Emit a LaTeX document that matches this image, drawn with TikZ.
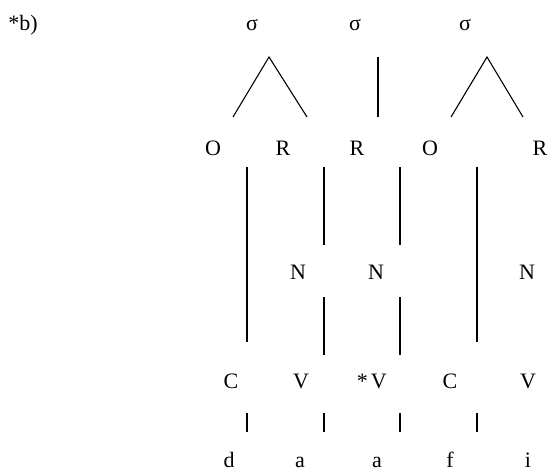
\documentclass[tikz,border=0pt]{standalone}
\usepackage{fontspec}
\setmainfont{Liberation Serif}
\begin{document}
\begin{tikzpicture}[x=1pt,y=-1pt,
  lbl/.style={anchor=base,inner sep=0pt,font=\fontsize{22}{26}\selectfont},
  ln/.style={line width=1.1pt},
  thk/.style={line width=1.7pt}]
\useasboundingbox (0,0) rectangle (553,472);
% labels
\node[lbl] (tag) at (23,30) {*b)};
\node[lbl] (s1) at (252,30) {σ};
\node[lbl] (s2) at (355,30) {σ};
\node[lbl] (s3) at (465,30) {σ};
\node[lbl] (o1) at (213,155) {O};
\node[lbl] (r1) at (283,155) {R};
\node[lbl] (r2) at (357,155) {R};
\node[lbl] (o2) at (430,155) {O};
\node[lbl] (r3) at (540,155) {R};
\node[lbl] (n1) at (298,279) {N};
\node[lbl] (n2) at (376,279) {N};
\node[lbl] (n3) at (527,279) {N};
\node[lbl] (c1) at (231,388) {C};
\node[lbl] (v1) at (301,388) {V};
\node[lbl,anchor=base east] (v2) at (387,388) {*\hspace{3pt}V};
\node[lbl] (c2) at (450,388) {C};
\node[lbl] (v3) at (528,388) {V};
\node[lbl] (d) at (229,467) {d};
\node[lbl] (a1) at (300,467) {a};
\node[lbl] (a2) at (377,467) {a};
\node[lbl] (f) at (450,467) {f};
\node[lbl] (i) at (528,467) {i};
% connector end points
\coordinate (t1) at (269,57);
\coordinate (t1l) at (233,117);
\coordinate (t1r) at (307,117);
\coordinate (t2) at (378,57);
\coordinate (t2b) at (378,117);
\coordinate (t3) at (487,57);
\coordinate (t3l) at (451,117);
\coordinate (t3r) at (523,117);
\coordinate (oa) at (247,167); \coordinate (ob) at (247,342);
\coordinate (oc) at (477,167); \coordinate (od) at (477,342);
\coordinate (ra) at (324,167); \coordinate (rb) at (324,245);
\coordinate (rc) at (400,167); \coordinate (rd) at (400,245);
\coordinate (na) at (324,297); \coordinate (nb) at (324,355);
\coordinate (nc) at (400,297); \coordinate (nd) at (400,355);
\coordinate (k1a) at (247,413); \coordinate (k1b) at (247,432);
\coordinate (k2a) at (324,413); \coordinate (k2b) at (324,432);
\coordinate (k3a) at (400,413); \coordinate (k3b) at (400,432);
\coordinate (k4a) at (477,413); \coordinate (k4b) at (477,432);
% connectors
\draw[ln] (t1l) -- (t1) -- (t1r);
\draw[ln] (t2) -- (t2b);
\draw[ln] (t3l) -- (t3) -- (t3r);
\draw[ln] (oa) -- (ob);
\draw[ln] (oc) -- (od);
\draw[ln] (ra) -- (rb);
\draw[ln] (rc) -- (rd);
\draw[ln] (na) -- (nb);
\draw[ln] (nc) -- (nd);
\draw[thk] (k1a) -- (k1b);
\draw[thk] (k2a) -- (k2b);
\draw[thk] (k3a) -- (k3b);
\draw[thk] (k4a) -- (k4b);
\end{tikzpicture}
\end{document}
